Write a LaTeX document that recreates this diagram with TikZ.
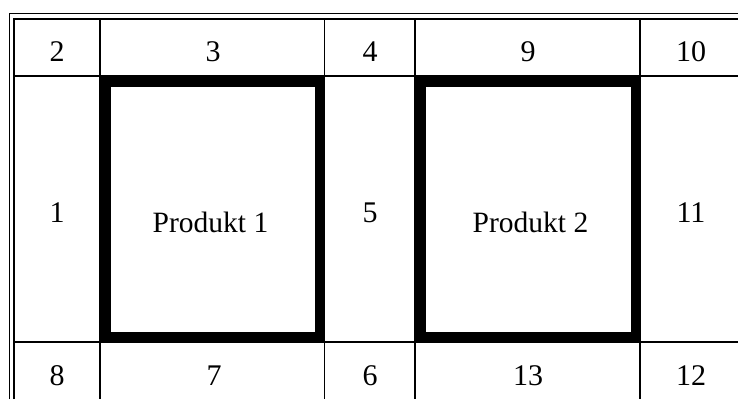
\documentclass[tikz,border=0pt]{standalone}
\usepackage{fontspec}
\setmainfont{Liberation Serif}
\begin{document}
\begin{tikzpicture}[x=1bp,y=-1bp,
  gridline/.style={line width=1.8bp, black},
  borderline/.style={line width=1.6bp, black},
  prodbox/.style={line width=10.5bp, black},
  lbl/.style={anchor=base, inner sep=0pt, font=\fontsize{30bp}{35bp}\selectfont},
  plbl/.style={anchor=base, inner sep=0pt, font=\fontsize{29.5bp}{35bp}\selectfont}]
\useasboundingbox (0,0) rectangle (738,399);
% outer double border (left and top)
\draw[borderline] (9.5,399) -- (9.5,13.5) -- (738,13.5);
\draw[line width=2bp] (14,399) -- (14,18.5) -- (738,18.5);
% grid
\draw[gridline] (14,76) -- (738,76);
\draw[gridline] (14,342) -- (738,342);
\foreach \x in {100,324.5,415,640} \draw[gridline] (\x,18.5) -- (\x,399);
% product boxes
\draw[prodbox] (105.25,81.25) rectangle (319.75,336.75);
\draw[prodbox] (420.25,81.25) rectangle (635.75,336.75);
% labels
\node[lbl] (c2) at (57,61.5) {2};
\node[lbl] (c3) at (213,61.5) {3};
\node[lbl] (c4) at (370,61.5) {4};
\node[lbl] (c9) at (528,61.5) {9};
\node[lbl] (c10) at (691,61.5) {10};
\node[lbl] (c1) at (57,222.5) {1};
\node[plbl] (p1) at (210.5,232) {Produkt 1};
\node[lbl] (c5) at (370,222) {5};
\node[plbl] (p2) at (530.5,232) {Produkt 2};
\node[lbl] (c11) at (691,222.5) {11};
\node[lbl] (c8) at (57,385.5) {8};
\node[lbl] (c7) at (214,385.5) {7};
\node[lbl] (c6) at (370,385.5) {6};
\node[lbl] (c13) at (528,385.5) {13};
\node[lbl] (c12) at (691,385.5) {12};
\end{tikzpicture}
\end{document}
